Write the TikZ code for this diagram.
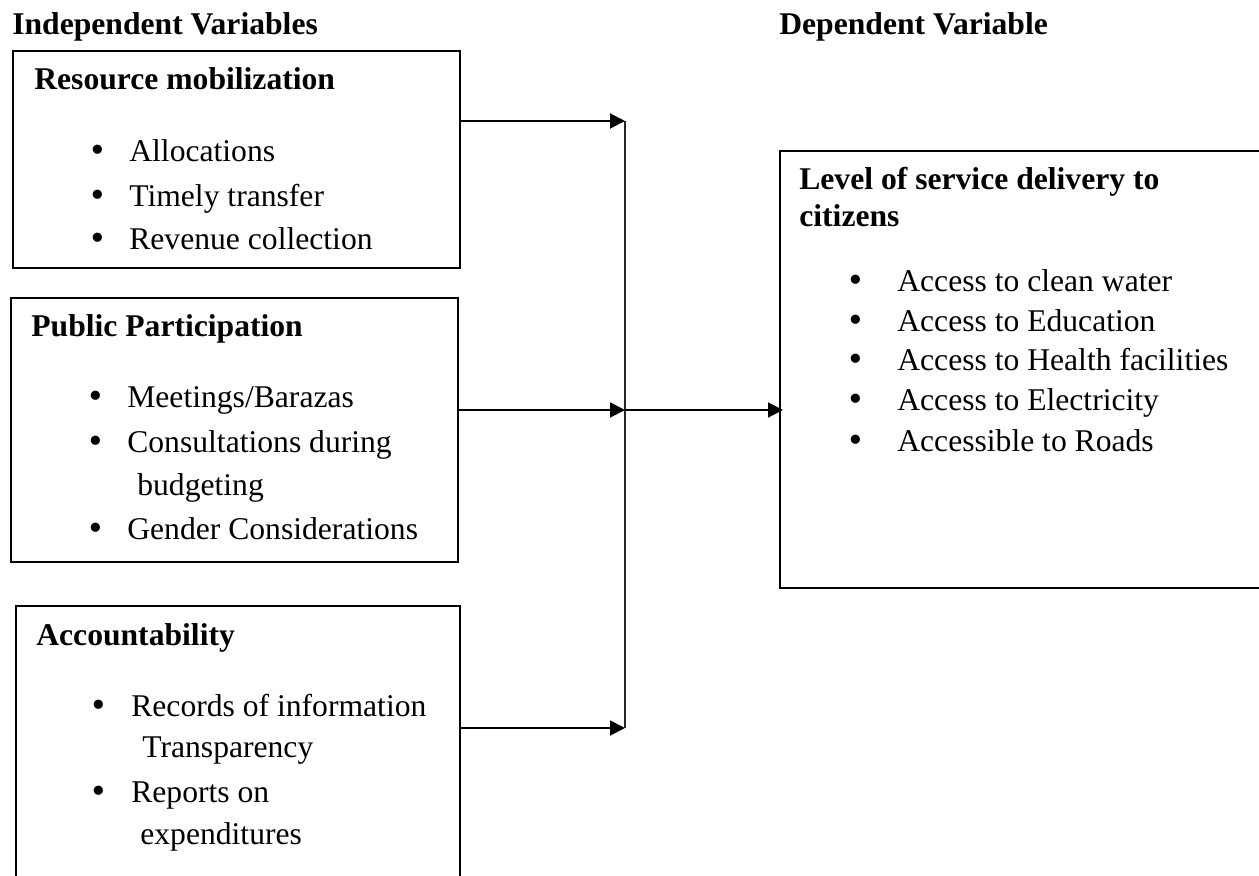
\documentclass[tikz,border=0pt]{standalone}
\usepackage{fontspec}
\setmainfont{Liberation Serif}
\newfontfamily\bulletfont{DejaVu Sans}
\usetikzlibrary{arrows.meta, positioning}

\newcommand{\bulletitem}[2][0.77cm]{\makebox[#1][l]{\raisebox{0pt}[0pt][0pt]{\bulletfont\textbullet}}#2}

\begin{document}
\begin{tikzpicture}[
        x=0.02cm, y=-0.02cm,
        font=\fontsize{18}{22}\selectfont,
        heading/.style={
            font=\fontsize{18}{22}\selectfont\bfseries,
            anchor=mid west,
            yshift=-0.1cm,
            inner sep=0pt
        },
        varbox/.style={
            draw,
            rectangle,
            anchor=north west,
            line width=1.1pt,
            inner sep=0pt
        },
        item/.style={
            anchor=mid west,
            yshift=-0.1cm,
            inner sep=0pt
        },
        arrow/.style={
            -{Triangle[length=0.3cm, width=0.3cm]},
            line width=1.1pt
        },
        joinline/.style={
            line width=0.75pt,
            draw=black!85
        }
    ]
        \useasboundingbox (0,0) rectangle (1259,876);

        % Headings
        \node (indep) [heading] at (12,25) {Independent Variables};
        \node (depend) [heading] at (779,25) {Dependent Variable};

        % Resource mobilization
        \node (res) [varbox, minimum width=8.94cm, minimum height=4.34cm] at (12,50) {};
        \node (restitle) [heading] at (34,80) {Resource mobilization};
        \node (res1) [item] at (88,152) {\bulletitem[0.82cm]{Allocations}};
        \node (res2) [item] at (88,197) {\bulletitem[0.82cm]{Timely transfer}};
        \node (res3) [item] at (88,240) {\bulletitem[0.82cm]{Revenue collection}};

        % Public participation
        \node (part) [varbox, minimum width=8.94cm, minimum height=5.28cm] at (10,297) {};
        \node (parttitle) [heading] at (31,327) {Public Participation};
        \node (part1) [item] at (86,398) {\bulletitem[0.82cm]{Meetings/Barazas}};
        \node (part2) [item] at (86,443) {\bulletitem[0.82cm]{Consultations during}};
        \node (part2b) [item] at (137,486) {budgeting};
        \node (part3) [item] at (86,530) {\bulletitem[0.82cm]{Gender Considerations}};

        % Accountability
        \node (acc) [varbox, minimum width=8.88cm, minimum height=5.6cm] at (15,605) {};
        \node (acctitle) [heading] at (36,636) {Accountability};
        \node (acc1) [item] at (89,707) {\bulletitem[0.84cm]{Records of information}};
        \node (acc1b) [item] at (142,748) {Transparency};
        \node (acc2) [item] at (89,793) {\bulletitem[0.84cm]{Reports on}};
        \node (acc2b) [item] at (140,835) {expenditures};

        % Service delivery
        \node (dep) [varbox, minimum width=9.64cm, minimum height=8.74cm] at (779,150) {};
        \node (deptitle) [heading] at (799,180) {Level of service delivery to};
        \node (deptitleb) [heading] at (799,217) {citizens};
        \node (dep1) [item] at (846,282) {\bulletitem[1.02cm]{Access to clean water}};
        \node (dep2) [item] at (846,322) {\bulletitem[1.02cm]{Access to Education}};
        \node (dep3) [item] at (846,361) {\bulletitem[1.02cm]{Access to Health facilities}};
        \node (dep4) [item] at (846,401) {\bulletitem[1.02cm]{Access to Electricity}};
        \node (dep5) [item] at (846,442) {\bulletitem[1.02cm]{Accessible to Roads}};

        % Connections
        \coordinate (jtop) at (625,121);
        \coordinate (jmid) at (625,410);
        \coordinate (jbot) at (625,728);
        \draw [joinline] (jtop) -- (jbot);
        \draw [arrow] (res.east |- jtop) -- (jtop);
        \draw [arrow] (part.east |- jmid) -- (jmid);
        \draw [arrow] (acc.east |- jbot) -- (jbot);
        \draw [arrow, shorten >=-0.08cm] (jmid) -- (dep.west |- jmid);
    \end{tikzpicture}
\end{document}
